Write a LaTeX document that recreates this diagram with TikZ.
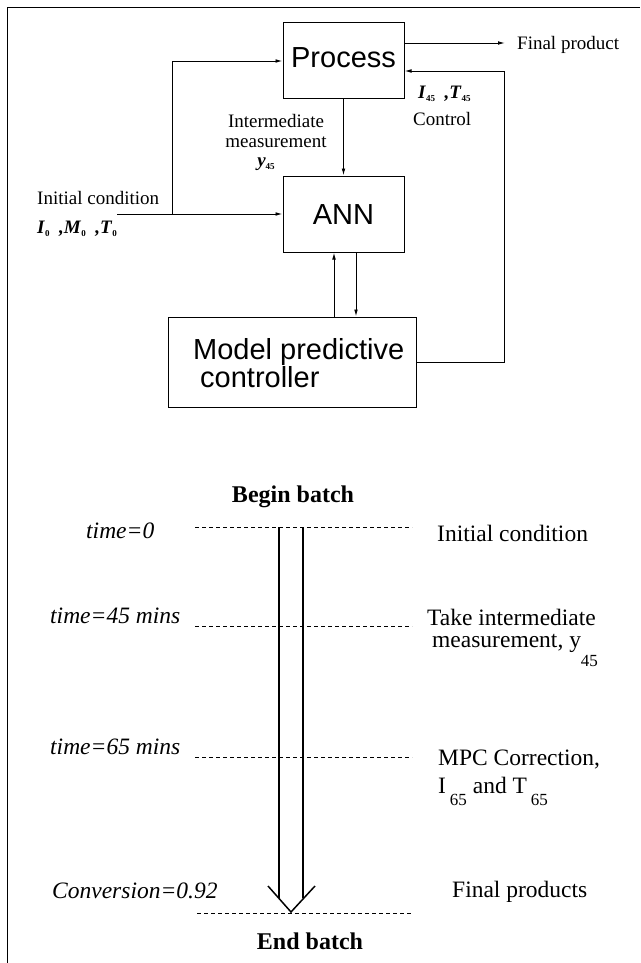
\documentclass[tikz,border=0pt]{standalone}
\usepackage{fontspec}
\setmainfont{Liberation Serif}
\newfontfamily\arialf{Liberation Sans}
\usetikzlibrary{arrows.meta}
\newcommand{\bsub}[2]{\textbf{\textit{#1}}\raisebox{-0.35ex}{\fontsize{9}{9}\selectfont\bfseries #2}}
\newcommand{\lowsub}[2]{\smash{\raisebox{#1}{\fontsize{17}{17}\selectfont #2}}}
\begin{document}
\begin{tikzpicture}[x=1pt,y=-1pt,
  box/.style={draw, line width=1pt, inner sep=0pt, font=\arialf\fontsize{29}{29}\selectfont},
  arr/.style={line width=0.9pt, -{Latex[length=7pt,width=3.6pt]}},
  lab/.style={inner sep=0pt, font=\fontsize{19}{20}\selectfont},
  big/.style={inner sep=0pt, font=\fontsize{23.5}{26}\selectfont},
  bigit/.style={inner sep=0pt, font=\fontsize{23.5}{26}\selectfont\itshape},
  bigbf/.style={inner sep=0pt, font=\fontsize{24}{26}\selectfont\bfseries},
  tline/.style={line width=0.8pt, dash pattern=on 4pt off 3pt},
  hollow/.style={line width=1.5pt}]
\useasboundingbox (0,0) rectangle (640,963);
% frame
\draw[line width=1pt] (7,963) -- (7,8) -- (640,8);

% boxes
\node[box, minimum width=121pt, minimum height=76pt, text height=21pt, text depth=8pt] (proc) at (343.5,61) {Process};
\node[box, minimum width=121pt, minimum height=76pt, text height=21pt, text depth=0pt] (ann) at (343.5,214) {ANN};
\node[draw, line width=1pt, minimum width=248pt, minimum height=90pt, inner sep=0pt] (mpc) at (292,362) {};
\node[inner sep=0pt, anchor=west, align=left, font=\arialf\fontsize{29}{29}\selectfont] (mpctxt) at (193,363) {Model predictive\\[-1pt]\hspace*{7pt}controller};

% labels top
\node[lab, anchor=west] (fp) at (517,45) {Final product};
\coordinate (fptip) at (505,43);
\node[lab, anchor=west] (ic) at (37,198) {Initial condition};
\node[lab, anchor=west] (icvars) at (37,229) {\bsub{I}{0}~~\textbf{\textit{,}}\bsub{M}{0}~~\textbf{\textit{,}}\bsub{T}{0}};
\node[lab, align=center] (im) at (276,131) {Intermediate\\measurement};
\node[lab] (y45) at (266,164) {\bsub{y}{45}};
\node[lab, anchor=west] (ctlvars) at (418,94) {\bsub{I}{45}~~\textbf{\textit{,}}\bsub{T}{45}};
\node[lab, anchor=west] (ctl) at (413,119) {Control};

% connectors top
\coordinate (icstart) at (117,214);
\coordinate (br) at (172,214);
\coordinate (cr) at (504,71);
\draw[arr] (proc.south) -- (ann.north);
\draw[arr] ([yshift=18pt]proc.east) -- (fptip);
\draw[arr] (icstart) -- (ann.west);
\draw[arr] (br) |- (proc.west);
\draw[arr] (mpc.east) -| (cr) -- ([yshift=-10pt]proc.east);
\draw[arr] ([xshift=-9.5pt]ann.south |- mpc.north) -- ([xshift=-9.5pt]ann.south);
\draw[arr] ([xshift=12.5pt]ann.south) -- ([xshift=12.5pt]ann.south |- mpc.north);

% timeline
\node[bigbf] (begin) at (293,497) {Begin batch};
\node[bigbf] (endb) at (310,941) {End batch};
\draw[tline] (195,527) -- (412,527);
\draw[tline] (195,626) -- (412,626);
\draw[tline] (195,757) -- (412,757);
\draw[tline] (197,913) -- (413,913);
\draw[hollow] (279,527) -- (279,898);
\draw[hollow] (303,527) -- (303,898);
\draw[hollow, line join=miter] (268,886) -- (291,912) -- (315,886);

\node[bigit, anchor=west] (t0) at (86,531) {time=0};
\node[bigit, anchor=west] (t45) at (50,616) {time=45 mins};
\node[bigit, anchor=west] (t65) at (50,747) {time=65 mins};
\node[bigit, anchor=west] (conv) at (52,891) {Conversion=0.92};

\node[big, anchor=west] (r0) at (437,533) {Initial condition};
\node[big, anchor=west] (r45a) at (427,617) {Take intermediate};
\node[big, anchor=west] (r45b) at (432,643) {measurement, y\lowsub{-19pt}{45}};
\node[big, anchor=west] (r65a) at (438,760) {MPC Correction,};
\node[big, anchor=west] (r65b) at (438,785) {I\,\lowsub{-12pt}{65} and T\,\lowsub{-12pt}{65}};
\node[big, anchor=west] (rend) at (452,892) {Final products};
\end{tikzpicture}
\end{document}
